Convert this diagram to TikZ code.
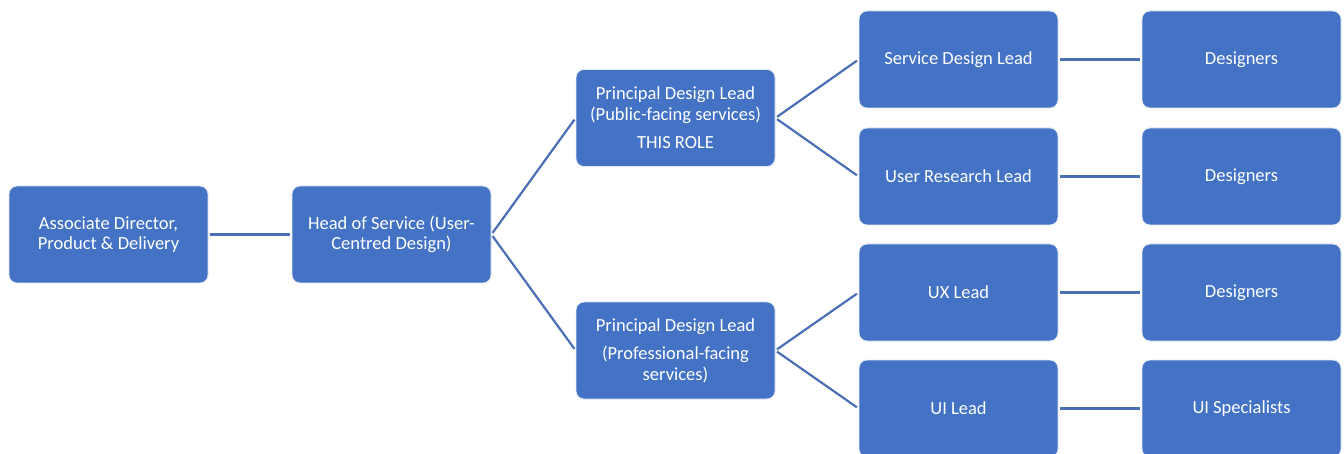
\documentclass[tikz,border=0pt]{standalone}
\usepackage{fontspec}
\setmainfont{Carlito}
\definecolor{boxblue}{HTML}{4472C4}
\definecolor{lineblue}{HTML}{4A6FB5}
\begin{document}
\begin{tikzpicture}[x=1pt,y=-1pt,
  box/.style={rectangle, rounded corners=8pt, fill=boxblue, draw=white!85!boxblue, line width=0.8pt,
    minimum width=199pt, minimum height=97pt, inner sep=0pt, align=center, text=white,
    font=\fontsize{18.5}{20.5}\selectfont},
  link/.style={draw=lineblue, line width=2.2pt, shorten <=2pt, shorten >=2pt}]
\useasboundingbox (0,0) rectangle (1344,454);
\clip (0,0) rectangle (1344,454);
\node[box] (ad) at (108.5,234.5) {Associate Director,\\Product \& Delivery};
\node[box] (hs) at (391.5,234.5) {Head of Service (User-\\Centred Design)};
\node[box] (p1) at (675.5,118) {Principal Design Lead\\(Public-facing services)\\[8pt]THIS ROLE};
\node[box] (p2) at (675.5,350.5) {Principal Design Lead\\[8pt](Professional-facing\\services)};
\node[box] (sdl) at (958.5,59.5) {Service Design Lead};
\node[box] (url) at (958.5,176.5) {User Research Lead};
\node[box] (ux) at (958.5,292.5) {UX Lead};
\node[box] (ui) at (958.5,408.5) {UI Lead};
\node[box] (d1) at (1241.5,59.5) {Designers};
\node[box] (d2) at (1241.5,176.5) {Designers};
\node[box] (d3) at (1241.5,292.5) {Designers};
\node[box] (uis) at (1241.5,408.5) {UI Specialists};
\draw[link] (ad.east) -- (hs.west);
\draw[link] (hs.east) -- (p1.west);
\draw[link] (hs.east) -- (p2.west);
\draw[link] (p1.east) -- (sdl.west);
\draw[link] (p1.east) -- (url.west);
\draw[link] (p2.east) -- (ux.west);
\draw[link] (p2.east) -- (ui.west);
\draw[link] (sdl.east) -- (d1.west);
\draw[link] (url.east) -- (d2.west);
\draw[link] (ux.east) -- (d3.west);
\draw[link] (ui.east) -- (uis.west);
\end{tikzpicture}
\end{document}
